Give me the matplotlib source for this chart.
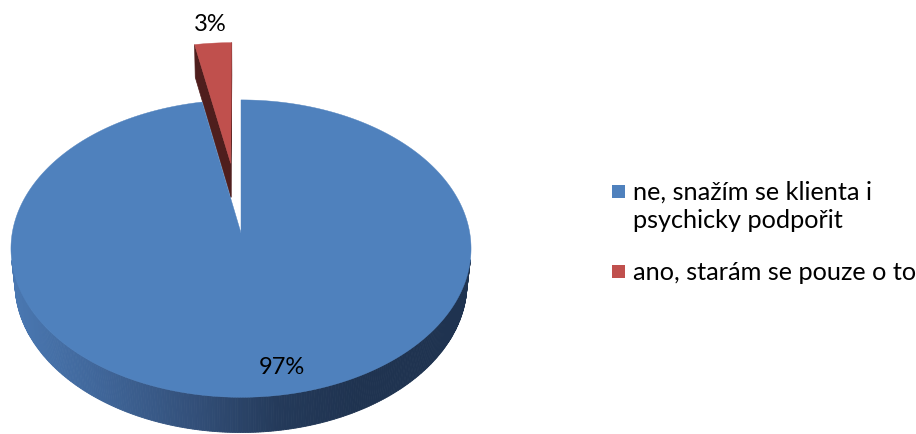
import numpy as np
import matplotlib
matplotlib.use("Agg")
import matplotlib.pyplot as plt
from matplotlib.colors import LinearSegmentedColormap
from matplotlib.patches import Polygon, Rectangle

# data
labels = ["ne, snažím se klienta i\npsychicky podpořit", "ano, starám se pouze o to"]
values = [97, 3]
pct_labels = ["97%", "3%"]
colors = ["#4f81bd", "#c0504d"]
explode = [0.0, 0.5]

plt.rcParams['font.family'] = ['Lato', 'DejaVu Sans']

# fake 3d camera (pixels)
D = 7.3
phi = np.radians(40)
c, s = np.cos(phi), np.sin(phi)
F = 1670
X0, Y0 = 241, 233
h = 0.2


def proj(x, y, z):
    d = D + y * c - z * s
    return X0 + F * x / d, Y0 - F * (y * s + z * c) / d


side_cmap = LinearSegmentedColormap.from_list(
    "side", [(0.0, "#4a78b2"), (0.2, "#3f6598"), (0.39, "#33507a"),
             (0.58, "#243a5a"), (0.75, "#1f3350"), (1.0, "#1f3350")])
dark_red = "#4f1e1d"

fig = plt.figure(figsize=(9.16, 4.34), dpi=100)
ax = fig.add_axes([0, 0, 1, 1])
ax.set_xlim(0, 916)
ax.set_ylim(434, 0)
ax.axis("off")

cam = np.array([0.0, -D * c, D * s])
total = sum(values)
start = 90.0
slices = []
for v, col, e in zip(values, colors, explode):
    t1 = start
    t2 = start - 360.0 * v / total
    mid = np.radians((t1 + t2) / 2)
    ox, oy = e * np.cos(mid), e * np.sin(mid)
    slices.append((t2, t1, ox, oy, col))
    start = t2

# back slice first (red), then blue
for t2, t1, ox, oy, col in sorted(slices, key=lambda q: -q[3]):
    th = np.radians(np.linspace(t2, t1, 600))
    ax_ = ox + np.cos(th)
    ay_ = oy + np.sin(th)

    # radial faces
    for ang, sign in [(t1, 90), (t2, -90)]:
        na = np.radians(ang + sign)
        n = np.array([np.cos(na), np.sin(na), 0])
        if np.dot(n, cam - np.array([ox, oy, 0])) > 0:
            ex, ey = ox + np.cos(np.radians(ang)), oy + np.sin(np.radians(ang))
            pts = [proj(ox, oy, 0), proj(ex, ey, 0), proj(ex, ey, -h), proj(ox, oy, -h)]
            ax.add_patch(Polygon(pts, closed=True, facecolor=dark_red, edgecolor=dark_red, lw=0.5))

    # outer side strips
    for i in range(len(th) - 1):
        tm = (th[i] + th[i + 1]) / 2
        p = np.array([ox + np.cos(tm), oy + np.sin(tm), 0])
        n = np.array([np.cos(tm), np.sin(tm), 0])
        if np.dot(n, cam - p) <= 0:
            continue
        a = proj(ax_[i], ay_[i], 0)
        b = proj(ax_[i + 1], ay_[i + 1], 0)
        bb = proj(ax_[i + 1], ay_[i + 1], -h)
        aa = proj(ax_[i], ay_[i], -h)
        tx = (a[0] - 10) / (472 - 10)
        sc = side_cmap(np.clip(tx, 0, 1))
        ax.add_patch(Polygon([a, b, bb, aa], closed=True, facecolor=sc, edgecolor=sc, lw=0.6))

    # top face
    top = [proj(ox, oy, 0)] + [proj(x, y, 0) for x, y in zip(ax_, ay_)]
    ax.add_patch(Polygon(top, closed=True, facecolor=col, edgecolor=col, lw=0.3))

# percent labels
for (t2, t1, ox, oy, col), txt, e in zip(slices, pct_labels, explode):
    mid = np.radians((t1 + t2) / 2)
    if e > 0:
        lx, ly = proj(ox + 1.17 * np.cos(mid), oy + 1.17 * np.sin(mid), 0)
        ax.text(lx, ly, txt, ha="center", va="center", fontsize=17, color="black")
    else:
        lx, ly = proj(0.82 * np.cos(mid), 0.82 * np.sin(mid), 0)
        ax.text(lx - 2, ly + 3, txt, ha="left", va="center", fontsize=17, color="black")

# legend
leg_y = [192, 272]
for col, lab, y in zip(colors, labels, leg_y):
    ax.add_patch(Rectangle((612, y - 7), 13, 13, facecolor=col, edgecolor="none"))
    ax.text(633, y - 11, lab, ha="left", va="top", fontsize=18.2, color="black", linespacing=1.25)

fig.savefig("out.png", dpi=100)
